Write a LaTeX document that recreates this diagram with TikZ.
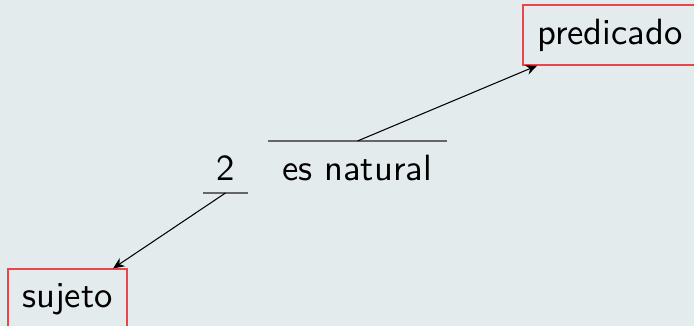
\documentclass[tikz,border=0pt]{standalone}
\usetikzlibrary{arrows.meta}
\definecolor{bgc}{HTML}{E4EBED}
\definecolor{boxred}{HTML}{E8464A}
\definecolor{linegray}{HTML}{666666}
\begin{document}
\begin{tikzpicture}[x=0.2857pt,y=-0.2857pt,
  txt/.style={font=\sffamily\fontsize{10.45}{12.5}\selectfont},
  lbl/.style={txt, text=black, inner sep=0pt, anchor=base},
  redbox/.style={txt, draw=boxred, line width=0.35pt, inner sep=0pt},
  bar/.style={draw=linegray, line width=0.6pt},
  arr/.style={draw=black, line width=0.3pt, -{Stealth[length=3.2pt,width=2.8pt]}}]
\fill[bgc] (0,0) rectangle (694,326);
\useasboundingbox (0,0) rectangle (694,326);
\node[redbox, minimum width=174*0.2857pt, minimum height=60*0.2857pt] (predicado) at (610,35) {predicado};
\node[redbox, minimum width=119*0.2857pt, minimum height=60*0.2857pt] (sujeto) at (67.5,299) {sujeto};
\node[lbl] (esnat) at (357,181) {es natural};
\node[lbl] (two) at (226,181) {2};
\coordinate (tl) at (268,141);
\coordinate (tr) at (447,141);
\coordinate (tm) at (357.5,141);
\coordinate (bl) at (203,193);
\coordinate (br) at (248,193);
\coordinate (bm) at (225.5,193);
\draw[bar] (tl) -- (tr);
\draw[bar] (bl) -- (br);
\draw[arr] (tm) -- (predicado);
\draw[arr] (bm) -- (sujeto);
\end{tikzpicture}
\end{document}
